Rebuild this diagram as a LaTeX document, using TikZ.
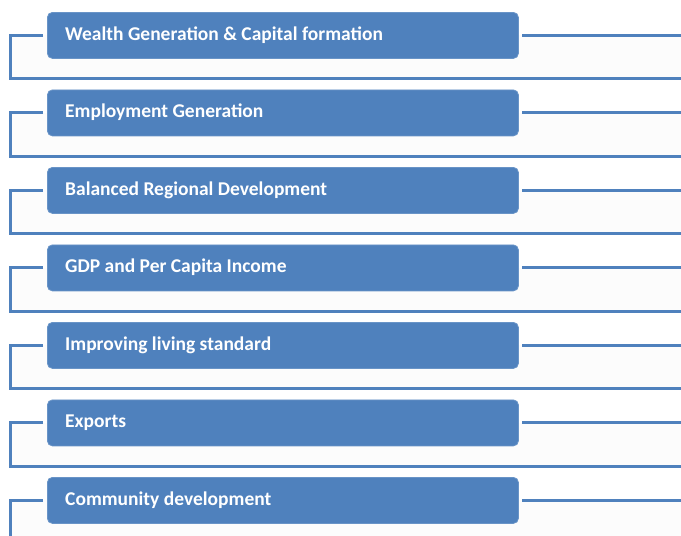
\documentclass[tikz,border=0pt]{standalone}
\usepackage{fontspec}
\setmainfont{Carlito}
\definecolor{boxblue}{HTML}{4F81BD}
\definecolor{paleband}{HTML}{FCFCFC}
\begin{document}
\begin{tikzpicture}[x=1pt,y=-1pt,
  itembox/.style={draw=boxblue!85!white,fill=boxblue,rounded corners=5pt,line width=0.8pt,
    minimum width=471pt,minimum height=46pt,inner sep=0pt,anchor=north west},
  itemtext/.style={text=white,font=\fontsize{19.5}{22}\selectfont\bfseries,anchor=west,inner sep=0pt},
  rail/.style={draw=boxblue,line width=3pt}]
\useasboundingbox (0,0) rectangle (681,536);
\foreach \i/\t in {1/{Wealth Generation \& Capital formation},2/{Employment Generation},3/{Balanced Regional Development},4/{GDP and Per Capita Income},5/{Improving living standard},6/{Exports},7/{Community development}}{
  \pgfmathsetmacro{\top}{12+77.5*(\i-1)}
  \pgfmathsetmacro{\mid}{\top+23}
  \pgfmathsetmacro{\low}{\mid+43.5}
  \fill[paleband] (10,\mid) rectangle (681,\low);
  \node[itembox] (b\i) at (47,\top) {};
  \node[itemtext] (t\i) at (65,\mid) {\t};
  \coordinate (l\i) at (43,\mid);
  \coordinate (c\i) at (10,\low);
  \coordinate (e\i) at (681,\low);
  \coordinate (r\i) at (522,\mid);
  \coordinate (re\i) at (681,\mid);
  \draw[rail] (l\i) -| (c\i) -- (e\i);
  \draw[rail] (r\i) -- (re\i);
}
\end{tikzpicture}
\end{document}
